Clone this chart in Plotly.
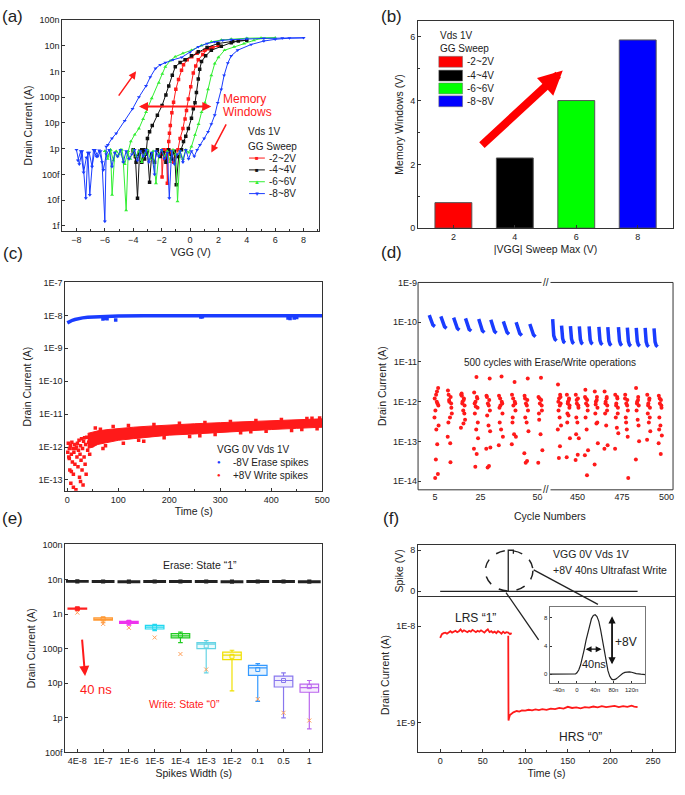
import plotly.graph_objects as go

# ================= DATA =================
# (a) transfer curves: VGG (V) vs drain current (pA)
a_red_x = [-2.0, -1.97, -1.85, -1.75, -1.65, -1.6,
           -1.5, -1.45, -1.39, -1.28, -1.16, -1.0, -0.81, -0.6, -0.46, -0.2, 0.12, 0.5, 1.04, 1.5, 2.0,
           1.6, 1.27, 0.9, 0.58, 0.4, 0.23, 0.05, -0.12, -0.25, -0.35, -0.5, -0.7,
           -0.85, -1.0, -1.15, -1.3, -1.45, -1.6, -1.75, -1.9, -2.0]
a_red_y = [0.7, 0.08, 0.9, 0.4, 0.8, 0.045,
           1.9, 4, 8, 25, 63, 200, 480, 1100, 1800, 2800, 3700, 5000, 6600, 8200, 10000,
           8500, 7500, 4500, 2800, 1600, 860, 250, 85, 30, 14, 6, 2.5,
           0.9, 0.5, 0.3, 0.8, 0.6, 0.9, 0.4, 0.8, 0.6]
a_black_x = [-4.0, -3.85, -3.7, -3.55, -3.4, -3.25, -3.1,
             -3.0, -2.85, -2.66, -2.3, -1.97, -1.7, -1.5, -1.25, -1.04, -0.7, -0.35, 0.1, 0.58, 1.2, 1.97, 3.0, 4.0,
             3.4, 2.9, 2.2, 1.5, 1.1, 0.81, 0.68, 0.58, 0.45, 0.35, 0.23, 0.1, -0.12, -0.3, -0.46,
             -0.6, -0.8, -0.97, -1.1, -1.3, -1.5, -1.7, -1.9, -2.1, -2.3, -2.5, -2.7, -2.85, -3.0, -3.2, -3.4, -3.6, -3.8, -4.0]
a_black_y = [0.9, 0.5, 0.012, 0.8, 0.3, 0.9, 0.6,
             2.5, 4.5, 8, 20, 47, 120, 270, 700, 1500, 2200, 2800, 4000, 5700, 8500, 12000, 14500, 16000,
             15000, 13000, 9500, 6600, 4000, 2400, 1200, 500, 150, 60, 35, 15, 6, 3, 1.9,
             0.9, 0.5, 0.04, 0.8, 0.4, 0.9, 0.3, 0.7, 0.5, 0.9, 0.3, 0.6, 0.05, 0.8, 0.4, 0.9, 0.6, 0.3, 0.8]
a_green_x = [-6.0, -5.8, -5.6, -5.49, -5.3, -5.1, -4.9, -4.7, -4.5, -4.35,
             -4.17, -3.9, -3.6, -3.3, -3.1, -2.7, -2.2, -1.95, -1.74, -1.4, -1.04, -0.5, 0.1, 0.8, 1.5, 2.2, 2.9, 4.0, 5.0, 6.0,
             5.0, 4.5, 3.8, 3.1, 2.43, 2.0, 1.74, 1.5, 1.27, 1.05, 0.81, 0.6, 0.35, 0.1,
             -0.1, -0.3, -0.5, -0.7, -0.88, -1.0, -1.2, -1.4, -1.6, -1.8, -2.0, -2.2, -2.4, -2.6, -2.8, -3.0,
             -3.2, -3.4, -3.6, -3.8, -4.0, -4.2, -4.4, -4.6, -4.8, -5.0, -5.2, -5.4, -5.6, -5.8, -6.0]
a_green_y = [0.8, 0.4, 0.9, 0.016, 0.7, 0.5, 0.9, 0.3, 0.004, 0.8,
             1.9, 3.5, 6, 14, 26, 90, 360, 800, 1500, 2600, 3700, 5000, 6600, 10000, 14000, 16500, 18000, 19300, 19800, 20000,
             19000, 16000, 12000, 9000, 6600, 3500, 2000, 700, 200, 60, 26, 9, 3.4, 1.2,
             0.7, 0.9, 0.4, 0.8, 0.009, 0.6, 0.9, 0.3, 0.8, 0.5, 0.9, 0.6, 0.045, 0.8, 0.4, 0.9,
             0.6, 0.3, 0.8, 0.5, 0.9, 0.4, 0.7, 0.25, 0.9, 0.6, 0.8, 0.35, 0.9, 0.5, 0.8]
a_blue_x = [-8.0, -7.8, -7.6, -7.34, -7.2, -7.06, -6.8, -6.6, -6.4, -6.2, -6.0, -5.9,
            -5.79, -5.5, -5.2, -4.6, -4.05, -3.6, -3.1, -2.8, -2.43, -2.1, -1.74, -1.2, -0.58, 0.0, 0.58, 1.2, 1.74, 2.3, 2.9, 4.0, 5.2, 6.5, 8.0,
            7.0, 6.0, 5.2, 4.3, 3.35, 2.9, 2.66, 2.4, 2.2, 1.95, 1.74, 1.5, 1.27, 1.0, 0.7,
            0.5, 0.3, 0.1, -0.1, -0.3, -0.5, -0.7, -0.9, -1.1, -1.3, -1.46, -1.6, -1.8, -2.0, -2.2, -2.4, -2.5, -2.7, -2.9, -3.1,
            -3.3, -3.5, -3.7, -3.9, -4.1, -4.3, -4.5, -4.7, -4.9, -5.1, -5.3, -5.5, -5.7, -5.9, -6.1, -6.3, -6.5, -6.7, -6.9, -7.1,
            -7.3, -7.5, -7.7, -7.9]
a_blue_y = [0.9, 0.25, 0.8, 0.012, 0.7, 0.016, 0.9, 0.5, 0.85, 0.3, 0.0015, 1.2,
            1.4, 2.5, 3.9, 12, 35, 100, 270, 600, 1300, 1800, 2200, 2800, 3500, 5500, 9000, 12000, 14000, 16000, 17000, 18500, 19000, 19500, 20000,
            19500, 17500, 15000, 11000, 6600, 4000, 2100, 700, 200, 60, 20, 9, 4.5, 2.5, 1.4,
            0.9, 0.5, 0.8, 0.4, 0.9, 0.3, 0.8, 0.6, 0.25, 0.8, 0.012, 0.7, 0.4, 0.9, 0.5, 0.8, 0.1, 0.7, 0.3, 0.9,
            0.5, 0.8, 0.35, 0.9, 0.6, 0.4, 0.8, 0.3, 0.9, 0.5, 0.7, 0.2, 0.9, 0.6, 0.15, 0.8, 0.5, 0.9, 0.2, 0.7,
            0.45, 0.12, 0.8, 0.35]
a_labels = ["-2~2V", "-4~4V", "-6~6V", "-8~8V"]
a_ticks = [1e-7, 1e-8, 1e-9, 1e-10, 1e-11, 1e-12, 1e-13, 1e-14, 1e-15]
a_ticktext = ["100n", "10n", "1n", "100p", "10p", "1p", "100f", "10f", "1f"]

# (b) memory windows
b_sweep_max = [2, 4, 6, 8]
b_window = [0.8, 2.2, 4.0, 5.9]

# (c) retention: time (s) vs current
c_blue_t = [0, 2, 5, 10, 15, 20, 30, 40, 50, 60, 80, 100, 150, 200, 250, 300, 350, 400, 450, 500]
c_blue_nA = [5.9, 6.2, 6.6, 7.1, 7.5, 7.9, 8.4, 8.7, 8.9, 9.1, 9.3, 9.5, 9.7, 9.8, 9.8, 9.8, 9.8, 9.8, 9.8, 9.7]
c_blue_dip_t = [70, 73, 78, 95, 262, 265, 433, 437, 445, 450]
c_blue_dip_nA = [7.8, 8.2, 7.9, 7.2, 9.0, 9.1, 8.3, 8.0, 8.4, 8.6]
c_band_t = [40, 50, 60, 80, 100, 130, 160, 200, 250, 300, 350, 400, 450, 500]
c_band_lo_pA = [0.9, 1.0, 1.2, 1.4, 1.6, 1.8, 2.0, 2.3, 2.5, 2.8, 3.1, 3.4, 3.7, 4.0]
c_band_hi_pA = [2.6, 2.9, 3.1, 3.4, 3.7, 4.0, 4.3, 4.7, 5.1, 5.5, 5.9, 6.3, 6.8, 7.2]
c_early_t = [1, 2, 3, 4, 4, 5, 6, 7, 8, 8, 9, 10, 11, 12, 12, 13, 14, 15, 16, 17, 18, 19, 20, 20, 21,
             22, 23, 24, 25, 26, 26, 27, 28, 29, 30, 31, 32, 33, 34, 35, 36, 37, 38, 40, 42, 44, 46, 48]
c_early_pA = [0.7, 1.3, 0.5, 0.9, 0.45, 0.2, 1.1, 0.08, 0.6, 0.18, 1.4, 0.35, 0.9, 0.15, 0.06, 0.7, 1.2, 0.3, 0.9, 0.05,
              1.0, 0.5, 1.3, 0.04, 0.25, 0.8, 1.6, 0.12, 0.6, 1.1, 0.09, 0.4, 1.8, 0.2, 0.9, 0.07, 1.5, 0.5, 1.9, 0.3,
              1.2, 0.15, 2.0, 0.8, 1.4, 0.6, 2.2, 1.1]
c_edge_t = [55, 65, 70, 75, 90, 110, 120, 140, 150, 170, 190, 220, 240, 260, 270, 290, 320, 340, 360, 370,
            390, 420, 440, 460, 470, 480, 490, 495]
c_edge_pA = [3.8, 3.5, 0.9, 1.1, 4.2, 1.3, 4.5, 1.6, 1.5, 4.8, 1.9, 5.3, 2.1, 2.2, 5.6, 2.4, 6.0, 2.7, 2.9, 6.4,
             3.0, 6.9, 3.2, 3.4, 7.3, 7.5, 3.6, 7.6]

# (d) endurance: cycle number vs current
# erase (blue) groups, current in units of 10 pA
d_blue_left_x = [[2.5, 2.9, 3.4, 4.1, 5.0], [7.6, 8.0, 8.5, 9.2, 10.1], [13.2, 13.6, 14.1, 14.8, 15.7],
                 [18.4, 18.8, 19.3, 20.0, 20.9], [24.2, 24.6, 25.1, 25.8, 26.7], [29.5, 29.9, 30.4, 31.1, 32.0],
                 [35.0, 35.4, 35.9, 36.6, 37.5], [40.6, 41.0, 41.5, 42.2, 43.1], [46.6, 47.0, 47.5, 48.2, 49.1]]
d_blue_left_y = [[15, 12.5, 10, 8.5, 7.8], [14, 11.5, 9.2, 7.7, 7.0], [13, 10.8, 8.5, 7.0, 6.3],
                 [12.5, 10.3, 8.0, 6.6, 6.0], [12, 9.8, 7.5, 6.1, 5.5], [11.5, 9.4, 7.2, 5.9, 5.3],
                 [10.5, 8.7, 6.8, 5.6, 5.0], [10, 8.2, 6.3, 5.2, 4.6], [9, 7.4, 5.8, 4.8, 4.3]]
d_blue_right_x = [[436.0, 436.2, 436.6, 437.3, 438.2], [441.0, 441.2, 441.6, 442.2, 443.0],
                  [446.0, 446.2, 446.6, 447.2, 448.0], [451.0, 451.2, 451.6, 452.2, 453.0],
                  [456.5, 456.7, 457.1, 457.7, 458.5], [462.0, 462.2, 462.6, 463.2, 464.0],
                  [467.0, 467.2, 467.6, 468.2, 469.0], [473.0, 473.2, 473.6, 474.2, 475.0],
                  [478.0, 478.2, 478.6, 479.2, 480.0], [483.0, 483.2, 483.6, 484.2, 485.0],
                  [488.0, 488.2, 488.6, 489.2, 490.0], [493.0, 493.2, 493.6, 494.2, 495.0]]
d_blue_right_y = [[12, 7.5, 4.6, 3.7, 3.4], [8.2, 5.6, 3.9, 3.2, 3.0], [8.0, 5.5, 3.8, 3.1, 2.9],
                  [7.8, 5.4, 3.7, 3.0, 2.8], [7.8, 5.3, 3.6, 3.0, 2.8], [7.6, 5.2, 3.5, 2.9, 2.7],
                  [7.5, 5.1, 3.4, 2.8, 2.6], [7.5, 5.0, 3.4, 2.8, 2.6], [7.3, 4.9, 3.3, 2.7, 2.5],
                  [7.2, 4.9, 3.3, 2.7, 2.5], [7.2, 4.8, 3.2, 2.6, 2.4], [7.0, 4.7, 3.2, 2.6, 2.4]]
# write (red) columns: centre cycle, per-point offsets and currents (pA)
d_red_dx = [-0.8, 0.4, -0.2, 0.7, -0.5, 0.1, 0.9, -0.9, 0.3, -0.3, 0.6, -0.6, 0.2, 0.8, -0.1]
d_red_left_c = [5.7, 11.5, 17.3, 23.0, 28.4, 33.9, 39.6, 45.1, 51.2]
d_red_left_pA = [[1.2, 0.9, 1.5, 2.2, 0.6, 1.0, 0.25, 0.4, 0.085, 0.035, 0.015, 0.012, 1.8, 0.8, 0.2],
                 [1.9, 1.3, 1.0, 0.7, 1.5, 0.4, 0.5, 0.13, 0.03, 1.1, 0.9, 0.3, 0.09],
                 [1.5, 1.2, 1.0, 0.8, 1.4, 0.6, 0.35, 0.22, 1.1, 0.9, 0.5, 1.6, 0.28],
                 [1.7, 1.3, 1.0, 0.7, 0.5, 0.2, 0.12, 0.065, 0.048, 0.023, 1.2, 0.9, 4.2, 0.3, 0.75],
                 [1.4, 1.1, 0.9, 0.6, 0.45, 0.25, 0.07, 0.065, 0.024, 0.022, 3.8, 1.3, 0.8, 0.18],
                 [1.4, 1.0, 0.8, 0.5, 0.3, 0.2, 0.13, 0.08, 4.3, 1.2, 0.9, 0.7],
                 [1.5, 1.0, 0.8, 0.6, 0.4, 0.15, 0.13, 0.085, 3.1, 1.2, 0.9, 0.3],
                 [1.4, 1.1, 0.9, 0.6, 0.4, 0.3, 0.18, 0.05, 0.032, 0.029, 3.8, 1.2, 0.8],
                 [1.3, 1.1, 0.9, 0.6, 0.35, 0.15, 0.06, 0.029, 4.0, 1.2, 0.8, 0.5]]
d_red_right_c = [439.8, 444.8, 449.8, 455.0, 460.5, 466.0, 472.0, 477.6, 483.7, 490.0, 496.5]
d_red_right_pA = [[2.7, 1.5, 1.2, 0.9, 0.6, 0.4, 0.25, 0.2, 0.075, 0.038, 1.3, 1.0, 0.8],
                  [1.5, 1.2, 1.0, 0.8, 0.5, 0.45, 0.12, 0.04, 1.1, 0.9, 0.7, 0.3],
                  [1.5, 1.2, 0.9, 0.7, 0.4, 0.3, 0.12, 0.034, 0.046, 1.1, 0.8, 0.15],
                  [1.3, 1.1, 0.9, 0.6, 0.4, 0.2, 0.06, 0.045, 0.014, 1.2, 0.8, 2.0],
                  [1.8, 1.3, 1.0, 0.7, 0.5, 0.28, 0.09, 0.026, 1.1, 0.85, 0.3],
                  [1.8, 1.3, 1.0, 0.8, 0.5, 0.25, 0.08, 0.065, 1.2, 0.9, 0.6],
                  [1.5, 1.2, 0.9, 0.7, 0.4, 0.22, 0.16, 0.065, 1.3, 0.8, 0.5],
                  [1.5, 1.1, 0.9, 0.6, 0.4, 0.2, 0.012, 1.2, 0.8, 0.3, 0.13],
                  [2.2, 1.3, 1.0, 0.8, 0.6, 0.35, 0.1, 0.035, 1.1, 0.9, 0.25],
                  [1.5, 1.2, 0.9, 0.7, 0.5, 0.3, 0.18, 0.11, 1.1, 0.8, 0.4],
                  [1.4, 1.1, 0.9, 0.7, 0.4, 0.25, 0.14, 0.09, 0.048, 1.2, 0.8, 0.2]]

# (e) spike width dependence
e_cats = ["4E-8", "1E-7", "1E-6", "1E-5", "1E-4", "1E-3", "1E-2", "0.1", "0.5", "1"]
e_erase_lo_nA = [8.2, 8.2, 8.1, 8.2, 8.2, 8.2, 8.1, 8.2, 8.2, 8.1]
e_erase_q1_nA = [8.6, 8.5, 8.4, 8.5, 8.5, 8.5, 8.4, 8.5, 8.5, 8.4]
e_erase_med_nA = [8.8, 8.7, 8.6, 8.7, 8.7, 8.7, 8.6, 8.7, 8.7, 8.6]
e_erase_q3_nA = [9.0, 8.9, 8.8, 8.9, 8.9, 8.9, 8.8, 8.9, 8.9, 8.8]
e_erase_hi_nA = [9.4, 9.3, 9.2, 9.3, 9.3, 9.3, 9.2, 9.3, 9.3, 9.2]
e_write_lo_pA = [1300, 560, 480, 330, 150, 20, 6, 3, 1.0, 0.48]
e_write_q1_pA = [1380, 670, 540, 370, 205, 100, 48, 17, 7.8, 5.5]
e_write_med_pA = [1430, 720, 580, 420, 235, 135, 65, 28, 12, 7.5]
e_write_q3_pA = [1480, 780, 620, 470, 270, 150, 79, 33, 16, 9.5]
e_write_hi_pA = [1550, 820, 650, 500, 300, 170, 90, 37, 20, 12]
e_write_mean_pA = [1420, 720, 580, 410, 240, 120, 60, 25, 12, 8]
e_out_i = [0, 1, 2, 3, 4, 5, 7, 8, 9]
e_out_pA = [1100, 520, 400, 210, 70, 25, 3.5, 1.4, 0.84]

# (f) ultrafast write
f_spike_t = [0, 80, 80, 86, 86, None, 80, 232]
f_spike_v = [0, 0, 8, 8, 7.3, None, 0, 0]
f_lrs_t = [0, 1, 2, 4, 6, 8, 10, 12, 14, 16, 18, 20, 22, 24, 26, 28, 30, 32, 34, 36, 38, 40, 42, 44,
           46, 48, 50, 52, 54, 56, 58, 60, 62, 64, 66, 68, 70, 72, 74, 76, 78, 80, 82, 84]
f_lrs_nA = [7.6, 8.0, 8.3, 8.5, 8.6, 8.4, 8.7, 8.9, 8.6, 8.8, 9.0, 8.7, 8.9, 9.3, 8.8, 9.1, 8.9, 8.7, 9.0, 8.8,
            9.2, 8.9, 8.7, 9.0, 8.8, 9.1, 8.9, 8.6, 9.0, 9.3, 8.7, 8.9, 8.6, 8.8, 8.5, 8.9, 8.7, 8.4, 8.8, 8.5,
            8.7, 8.6, 8.3, 8.5]
f_hrs_t = [80, 80.3, 81, 82, 84, 86, 88, 90, 93, 96, 100, 104, 108, 112, 116, 120, 125, 130, 135, 140,
           145, 150, 155, 160, 165, 170, 175, 180, 185, 190, 195, 200, 205, 210, 215, 220, 225, 228, 232]
f_hrs_nA = [8.0, 1.05, 1.12, 1.2, 1.25, 1.28, 1.3, 1.32, 1.3, 1.34, 1.33, 1.36, 1.34, 1.37, 1.35, 1.38, 1.36, 1.4,
            1.38, 1.42, 1.4, 1.46, 1.42, 1.44, 1.41, 1.45, 1.43, 1.47, 1.44, 1.48, 1.45, 1.46, 1.49, 1.45, 1.48,
            1.46, 1.5, 1.47, 1.45]
f_pulse_ns = [-60, -40, -20, -8, -3, 0, 4, 8, 12, 16, 20, 24, 28, 32, 36, 40, 44, 48, 52, 56, 60, 64, 68, 72,
              76, 80, 85, 90, 95, 100, 105, 110, 115, 120, 125, 130, 140, 150]
f_pulse_v = [0, 0, 0, 0, 0.05, 0.2, 0.6, 1.3, 2.3, 3.5, 4.8, 6.0, 7.1, 7.9, 8.35, 8.45, 8.2, 7.5, 6.3, 4.8,
             3.2, 1.7, 0.5, -0.3, -0.7, -0.8, -0.7, -0.45, -0.15, 0.1, 0.25, 0.32, 0.33, 0.28, 0.18, 0.08, 0.0, -0.05]

# ================= STYLE / LAYOUT =================
W, H = 685, 795
FONT = "Liberation Sans, Arial, Helvetica, sans-serif"
LC = "#333333"
RED, BLACK, GREEN, BLUE = "#ff1a1a", "#111111", "#33ee33", "#1a3cff"


def px(v):
    return v / W


def py(v):
    return 1 - v / H


def axis(domain, anchor, title=None, tsize=10.5, standoff=4, **kw):
    d = dict(domain=domain, anchor=anchor, showline=True, linecolor=LC, linewidth=1, mirror=True,
             ticks="inside", ticklen=3, tickcolor=LC, showgrid=False, zeroline=False,
             tickfont=dict(family=FONT, size=9, color="#222"))
    if title:
        d["title"] = dict(text=title, font=dict(family=FONT, size=tsize, color="#222"), standoff=standoff)
    d.update(kw)
    return d


def minor(dt):
    return dict(ticks="inside", ticklen=2, tickcolor=LC, dtick=dt)


fig = go.Figure()

# ---- (a)
for xs, ys, col, sym in [(a_red_x, a_red_y, RED, "square"), (a_black_x, a_black_y, BLACK, "square"),
                         (a_green_x, a_green_y, GREEN, "triangle-up"), (a_blue_x, a_blue_y, BLUE, "triangle-down")]:
    fig.add_trace(go.Scatter(x=xs, y=[v * 1e-12 for v in ys], mode="lines+markers",
                             line=dict(color=col, width=1), marker=dict(symbol=sym, size=3.5, color=col),
                             xaxis="x", yaxis="y", showlegend=False))

# ---- (b)
fig.add_trace(go.Bar(x=b_sweep_max, y=b_window, width=1.2,
                     marker=dict(color=["#ff0000", "#000000", "#00ff00", "#0000ff"], line=dict(color="#555", width=1)),
                     xaxis="x2", yaxis="y2", showlegend=False))

# ---- (c)
fig.add_trace(go.Scatter(x=c_band_t, y=[v * 1e-12 for v in c_band_lo_pA], mode="lines",
                         line=dict(color=RED, width=1), xaxis="x3", yaxis="y3", showlegend=False))
fig.add_trace(go.Scatter(x=c_band_t, y=[v * 1e-12 for v in c_band_hi_pA], mode="lines", fill="tonexty",
                         fillcolor=RED, line=dict(color=RED, width=1), xaxis="x3", yaxis="y3", showlegend=False))
fig.add_trace(go.Scatter(x=c_early_t + c_edge_t, y=[v * 1e-12 for v in c_early_pA + c_edge_pA], mode="markers",
                         marker=dict(color=RED, size=3.5, symbol="square"), xaxis="x3", yaxis="y3", showlegend=False))
fig.add_trace(go.Scatter(x=c_blue_t, y=[v * 1e-9 for v in c_blue_nA], mode="lines",
                         line=dict(color=BLUE, width=3.5), xaxis="x3", yaxis="y3", showlegend=False))
fig.add_trace(go.Scatter(x=c_blue_dip_t, y=[v * 1e-9 for v in c_blue_dip_nA], mode="markers",
                         marker=dict(color=BLUE, size=3.5, symbol="square"), xaxis="x3", yaxis="y3", showlegend=False))

# ---- (d)
for gxs, gys, xa, ya in [(d_blue_left_x, d_blue_left_y, "x4", "y4"), (d_blue_right_x, d_blue_right_y, "x5", "y5")]:
    bx, by = [], []
    for gx, gy in zip(gxs, gys):
        bx += gx + [None]
        by += [v * 1e-11 for v in gy] + [None]
    fig.add_trace(go.Scatter(x=bx, y=by, mode="lines", line=dict(color=BLUE, width=3.5),
                             xaxis=xa, yaxis=ya, showlegend=False))
for cents, cols, xa, ya in [(d_red_left_c, d_red_left_pA, "x4", "y4"), (d_red_right_c, d_red_right_pA, "x5", "y5")]:
    rx, ry = [], []
    for c, vals in zip(cents, cols):
        for i, v in enumerate(vals):
            rx.append(c + d_red_dx[i])
            ry.append(v * 1e-12)
    fig.add_trace(go.Scatter(x=rx, y=ry, mode="markers", marker=dict(color=RED, size=4),
                             xaxis=xa, yaxis=ya, showlegend=False))

# ---- (e)
e_idx = list(range(len(e_cats)))
e_colors = ["#ff2020", "#ff9933", "#ee33ee", "#22d8f0", "#22cc22", "#66d4e4", "#f0e000", "#3399ff", "#8877ee", "#bb66ee"]


def rgba(hexc, a):
    h = hexc.lstrip("#")
    return "rgba(%d,%d,%d,%.2f)" % (int(h[0:2], 16), int(h[2:4], 16), int(h[4:6], 16), a)


for i in e_idx:
    fig.add_trace(go.Box(x=[i], q1=[e_write_q1_pA[i] * 1e-12], median=[e_write_med_pA[i] * 1e-12],
                         q3=[e_write_q3_pA[i] * 1e-12], lowerfence=[e_write_lo_pA[i] * 1e-12],
                         upperfence=[e_write_hi_pA[i] * 1e-12], width=0.72,
                         line=dict(color=e_colors[i], width=1.2), fillcolor=rgba(e_colors[i], 0.12),
                         whiskerwidth=0.25, xaxis="x6", yaxis="y6", showlegend=False))
    fig.add_trace(go.Scatter(x=[i], y=[e_write_mean_pA[i] * 1e-12], mode="markers",
                             marker=dict(symbol="square-open", size=4, color=e_colors[i]),
                             xaxis="x6", yaxis="y6", showlegend=False))
fig.add_trace(go.Scatter(x=e_out_i, y=[v * 1e-12 for v in e_out_pA], mode="markers",
                         marker=dict(symbol="x-thin-open", size=4, line=dict(width=1, color=[e_colors[i] for i in e_out_i])),
                         xaxis="x6", yaxis="y6", showlegend=False))
fig.add_trace(go.Box(x=e_idx, q1=[v * 1e-9 for v in e_erase_q1_nA], median=[v * 1e-9 for v in e_erase_med_nA],
                     q3=[v * 1e-9 for v in e_erase_q3_nA], lowerfence=[v * 1e-9 for v in e_erase_lo_nA],
                     upperfence=[v * 1e-9 for v in e_erase_hi_nA], width=0.8,
                     line=dict(color="#222", width=2.2), fillcolor="#222", whiskerwidth=0.2,
                     xaxis="x6", yaxis="y6", showlegend=False))

# ---- (f)
fig.add_trace(go.Scatter(x=f_spike_t, y=f_spike_v, mode="lines", line=dict(color="#222", width=1.3),
                         xaxis="x7", yaxis="y7", showlegend=False))
fig.add_trace(go.Scatter(x=f_lrs_t, y=[v * 1e-9 for v in f_lrs_nA], mode="lines", line=dict(color=RED, width=1.8),
                         xaxis="x8", yaxis="y8", showlegend=False))
fig.add_trace(go.Scatter(x=f_hrs_t, y=[v * 1e-9 for v in f_hrs_nA], mode="lines", line=dict(color=RED, width=1.8),
                         xaxis="x8", yaxis="y8", showlegend=False))
fig.add_trace(go.Scatter(x=f_pulse_ns, y=f_pulse_v, mode="lines", line=dict(color="#222", width=1.2),
                         xaxis="x9", yaxis="y9", showlegend=False))

# ---------------- axes ----------------
small = dict(family=FONT, size=6, color="#222")
layout = dict(
    width=W, height=H, margin=dict(l=0, r=0, t=0, b=0),
    paper_bgcolor="white", plot_bgcolor="white", showlegend=False,
    font=dict(family=FONT, color="#222"),
    xaxis=axis([px(63), px(323)], "y", "VGG (V)", range=[-9, 9.1], tickvals=[-8, -6, -4, -2, 0, 2, 4, 6, 8],
               minor=minor(1)),
    yaxis=axis([py(229), py(15)], "x", "Drain Current (A)", type="log", range=[-15.2, -7],
               tickvals=a_ticks, ticktext=a_ticktext),
    xaxis2=axis([px(423), px(681)], "y2", "|VGG| Sweep Max (V)", range=[0.85, 9.15], tickvals=[2, 4, 6, 8]),
    yaxis2=axis([py(226), py(16)], "x2", "Memory Windows (V)", range=[0, 6.5], tickvals=[0, 2, 4, 6],
                minor=minor(1)),
    xaxis3=axis([px(66), px(326)], "y3", "Time (s)", range=[-4, 500], tickvals=[0, 100, 200, 300, 400, 500],
                minor=minor(50)),
    yaxis3=axis([py(492), py(281)], "x3", "Drain Current (A)", type="log", range=[-13.33, -7],
                tickvals=[1e-7, 1e-8, 1e-9, 1e-10, 1e-11, 1e-12, 1e-13],
                ticktext=["1E-7", "1E-8", "1E-9", "1E-10", "1E-11", "1E-12", "1E-13"]),
    xaxis4=axis([px(423), px(552)], "y4", range=[-2.4, 53.5], tickvals=[5, 25, 50], ticks="",
                showline=False, mirror=False),
    yaxis4=axis([py(491), py(281)], "x4", "Drain Current (A)", type="log", range=[-14.22, -9],
                tickvals=[1e-9, 1e-10, 1e-11, 1e-12, 1e-13, 1e-14],
                ticktext=["1E-9", "1E-10", "1E-11", "1E-12", "1E-13", "1E-14"], showline=False, mirror=False),
    xaxis5=axis([px(552), px(681)], "y5", range=[432, 503.7], tickvals=[450, 475, 500], ticks="",
                showline=False, mirror=False),
    yaxis5=axis([py(491), py(281)], "x5", type="log", range=[-14.22, -9], showticklabels=False, ticks="",
                showline=False, mirror=False),
    xaxis6=axis([px(66), px(326)], "y6", "Spikes Width (s)", range=[-0.47, 9.5], tickvals=e_idx, ticktext=e_cats),
    yaxis6=axis([py(757), py(546)], "x6", "Drain Current (A)", type="log", range=[-13.0, -6.98],
                tickvals=[1e-7, 1e-8, 1e-9, 1e-10, 1e-11, 1e-12, 1e-13],
                ticktext=["100n", "10n", "1n", "100p", "10p", "1p", "100f"]),
    xaxis7=axis([px(423), px(683)], "y7", range=[-26, 276], showticklabels=False, ticks=""),
    yaxis7=axis([py(599), py(547)], "x7", "Spike (V)", range=[-1, 9], tickvals=[0, 8]),
    xaxis8=axis([px(423), px(683)], "y8", "Time (s)", range=[-26, 276], tickvals=[0, 50, 100, 150, 200, 250],
                minor=minor(25)),
    yaxis8=axis([py(757), py(600)], "x8", "Drain Current (A)", type="log", range=[-9.31, -7.7],
                tickvals=[1e-8, 1e-9], ticktext=["1E-8", "1E-9"]),
    xaxis9=axis([px(556), px(653)], "y9", range=[-60, 150], tickvals=[-40, 0, 40, 80, 120],
                ticktext=["-40n", "0", "40n", "80n", "120n"], ticklen=2, tickfont=small, linecolor="#777"),
    yaxis9=axis([py(687), py(610)], "x9", range=[-1.3, 9.5], tickvals=[0, 4, 8], ticklen=2, tickfont=small,
                linecolor="#777"),
)
fig.update_layout(**layout)

# ---------------- annotations & shapes ----------------
ann = []
shp = []


def text(x, y, s, size=10, color="#222", xanchor="center", ref=("paper", "paper"), **kw):
    ann.append(dict(x=x, y=y, text=s, xref=ref[0], yref=ref[1], showarrow=False, xanchor=xanchor,
                    yanchor="middle", font=dict(family=FONT, size=size, color=color), **kw))


def arrow(x, y, ax_, ay_, xr, yr, color, width, side="end", size=1.0):
    ann.append(dict(x=x, y=y, ax=ax_, ay=ay_, xref=xr, yref=yr, axref=xr, ayref=yr, text="", showarrow=True,
                    arrowhead=2, arrowsize=size, arrowwidth=width, arrowcolor=color, arrowside=side,
                    startarrowhead=2, startarrowsize=size))


# panel labels
for lab, x, y in [("(a)", 13, 12), ("(b)", 396, 12), ("(c)", 13, 252), ("(d)", 396, 251),
                  ("(e)", 13, 520), ("(f)", 396, 520)]:
    text(px(x), py(y), lab, size=17)

# (a) arrows / text / legend
arrow(-3.8, -9.0, -5.1, -10.0, "x", "y", RED, 1.5)
arrow(1.5, -12.15, 2.6, -11.0, "x", "y", RED, 1.5)
arrow(1.5, -10.36, -3.7, -10.36, "x", "y", RED, 2, side="end+start", size=0.9)
text(px(224), py(95), "Memory", size=12, color=RED, xanchor="left")
text(px(224), py(108), "Windows", size=12, color=RED, xanchor="left")
text(px(249), py(128), "Vds 1V", size=10, xanchor="left")
text(px(249), py(143), "GG Sweep", size=10, xanchor="left")
for lab, col, glyph, yy in [(a_labels[0], RED, "■", 155), (a_labels[1], BLACK, "■", 167),
                            (a_labels[2], GREEN, "▲", 179), (a_labels[3], BLUE, "▼", 191)]:
    shp.append(dict(type="line", xref="paper", yref="paper", x0=px(252), x1=px(268), y0=py(yy), y1=py(yy),
                    line=dict(color=col, width=1)))
    text(px(260), py(yy), glyph, size=6, color=col)
    text(px(270), py(yy), lab, size=10, xanchor="left")

# (b) legend + arrow
text(px(443), py(31), "Vds 1V", size=10, xanchor="left")
text(px(443), py(44), "GG Sweep", size=10, xanchor="left")
for lab, col, y0, y1 in [(a_labels[0], "#ff0000", 52, 63), (a_labels[1], "#000000", 66, 77),
                         (a_labels[2], "#00ff00", 79, 90), (a_labels[3], "#0000ff", 92, 103)]:
    shp.append(dict(type="rect", xref="paper", yref="paper", x0=px(444), x1=px(468), y0=py(y1), y1=py(y0),
                    fillcolor=col, line=dict(color="#666", width=0.5)))
    text(px(471), py((y0 + y1) / 2), lab, size=10, xanchor="left")
arrow(5.56, 4.94, 2.88, 2.56, "x2", "y2", "#ff0000", 8, size=0.6)

# (c) legend
text(px(218), py(450), "VGG 0V Vds 1V", size=10, xanchor="left")
text(px(222), py(463), "●", size=6, color=BLUE)
text(px(234), py(463), "-8V Erase spikes", size=10, xanchor="left")
text(px(222), py(476), "●", size=6, color=RED)
text(px(234), py(476), "+8V Write spikes", size=10, xanchor="left")

# (d) frame, break marks, texts
shp.append(dict(type="rect", xref="paper", yref="paper", x0=px(423), x1=px(681), y0=py(491), y1=py(281),
                line=dict(color=LC, width=1)))
text(px(552), py(281), "//", size=10, bgcolor="white")
text(px(552), py(491), "//", size=10, bgcolor="white")
text(px(557), py(362), "500 cycles with Erase/Write operations", size=10)
text(px(557), py(518), "Cycle Numbers", size=10.5)

# (e)
shp.append(dict(type="circle", xref="x6", yref="y6", x0=-0.64, x1=0.64, y0=-9.7, y1=-7.19,
                line=dict(color=RED, width=2, dash="dash")))
arrow(0.3, -10.79, 0.18, -9.695, "x6", "y6", RED, 2)
text(4.75, -7.585, "Erase: State “1”", size=10.5, ref=("x6", "y6"))
text(0.73, -11.17, "40 ns", size=13, color=RED, ref=("x6", "y6"))
text(4.16, -11.6, "Write: State “0”", size=10.5, color=RED, ref=("x6", "y6"))

# (f)
shp.append(dict(type="circle", xref="x7", yref="y7", x0=53, x1=109, y0=0.05, y1=7.95,
                line=dict(color="#222", width=1.5, dash="dash")))
shp.append(dict(type="line", xref="paper", yref="paper", x0=px(540), y0=py(572), x1=px(605), y1=py(607),
                line=dict(color="#222", width=1.3)))
shp.append(dict(type="line", xref="paper", yref="paper", x0=px(512), y0=py(595), x1=px(545), y1=py(643),
                line=dict(color="#222", width=1.3)))
text(px(558), py(556), "VGG 0V Vds 1V", size=10.5, xanchor="left")
text(px(558), py(572), "+8V 40ns Ultrafast Write", size=10.5, xanchor="left")
text(px(481), py(621), "LRS “1”", size=12)
text(px(587), py(741), "HRS “0”", size=12)
arrow(54, 3.55, 16, 3.55, "x9", "y9", "#111", 1.3, side="end+start", size=0.9)
arrow(77, 1.4, 77, 8.45, "x9", "y9", "#111", 1.8, side="end+start", size=0.8)
text(37, 1.5, "40ns", size=11, ref=("x9", "y9"))
text(107, 4.6, "+8V", size=12, ref=("x9", "y9"))

fig.update_layout(annotations=ann, shapes=shp)
fig.write_html("out.html", config={"displayModeBar": False},
               post_script="document.body.style.margin='0px';document.body.style.padding='0px';")
